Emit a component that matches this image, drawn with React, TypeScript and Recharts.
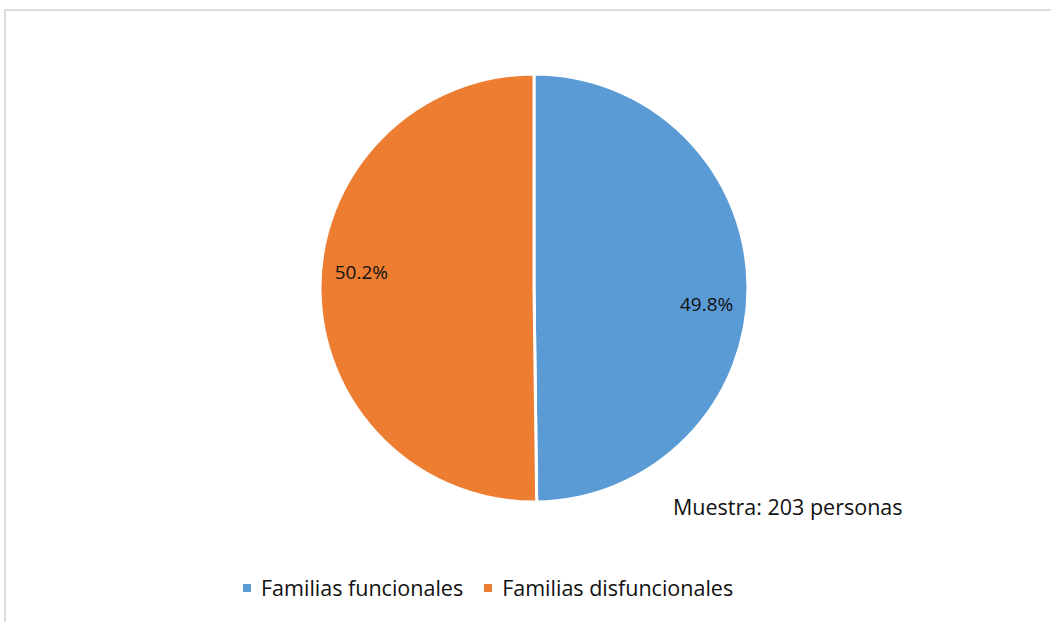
import React from 'react';
import { PieChart, Pie, Cell, Legend } from 'recharts';

const categories = ['Familias funcionales', 'Familias disfuncionales'];
const shares = [49.8, 50.2];
const colors = ['#5B9BD5', '#ED7D31'];
const sampleNote = 'Muestra: 203 personas';

const chartData = categories.map((name, i) => ({ name, value: shares[i] }));

const FONT = '"Open Sans", "Noto Sans", sans-serif';
const RAD = Math.PI / 180;

const renderLabel = (props: any) => {
  const { cx, cy, midAngle, outerRadius, value } = props;
  // Excel "best fit" puts the labels a little clockwise of the slice middle
  const angle = (midAngle - 5.5) * RAD;
  const r = outerRadius * 0.81;
  const x = cx + r * Math.cos(angle);
  const y = cy - r * Math.sin(angle);
  return (
    <text
      x={x}
      y={y}
      fill="#111"
      fontSize={19}
      fontFamily={FONT}
      textAnchor="middle"
      dominantBaseline="central"
    >
      {`${value.toFixed(1)}%`}
    </text>
  );
};

// legend drawn in the series order (blue first), like the original
const renderLegend = () => (
  <div style={{ display: 'flex', fontFamily: FONT }}>
    {categories.map((name, index) => (
      <div
        key={name}
        style={{ display: 'flex', alignItems: 'center', marginRight: index === 0 ? 21 : 0 }}
      >
        <span
          style={{
            display: 'inline-block',
            width: 8,
            height: 8,
            background: colors[index],
            marginRight: 10,
          }}
        />
        <span style={{ fontSize: 21.5, color: '#111', whiteSpace: 'nowrap' }}>{name}</span>
      </div>
    ))}
  </div>
);

export default function App() {
  return (
    <div
      style={{
        position: 'absolute',
        left: 0,
        top: 0,
        width: 1051,
        height: 622,
        background: '#fff',
        overflow: 'hidden',
      }}
    >
      {/* chart area border, runs off the right and bottom edge */}
      <div
        style={{
          position: 'absolute',
          left: 4,
          top: 9,
          width: 1100,
          height: 700,
          borderLeft: '2px solid #dcdcdc',
          borderTop: '2px solid #dcdcdc',
        }}
      />
      <div style={{ position: 'absolute', left: 0, top: 0 }}>
        <PieChart width={1051} height={622} margin={{ top: 0, right: 0, bottom: 0, left: 0 }}>
          <Pie
            data={chartData}
            dataKey="value"
            nameKey="name"
            cx={534}
            cy={288}
            outerRadius={214}
            startAngle={90}
            endAngle={-270}
            stroke="#fff"
            strokeWidth={3}
            label={renderLabel}
            labelLine={false}
            isAnimationActive={false}
          >
            {chartData.map((entry, index) => (
              <Cell key={entry.name} fill={colors[index]} />
            ))}
          </Pie>
          <Legend
            content={renderLegend}
            wrapperStyle={{ position: 'absolute', left: 243, top: 573, width: 560 }}
          />
        </PieChart>
      </div>
      <div
        style={{
          position: 'absolute',
          left: 673,
          top: 492,
          fontFamily: FONT,
          fontSize: 21.5,
          color: '#111',
          whiteSpace: 'nowrap',
        }}
      >
        {sampleNote}
      </div>
    </div>
  );
}
